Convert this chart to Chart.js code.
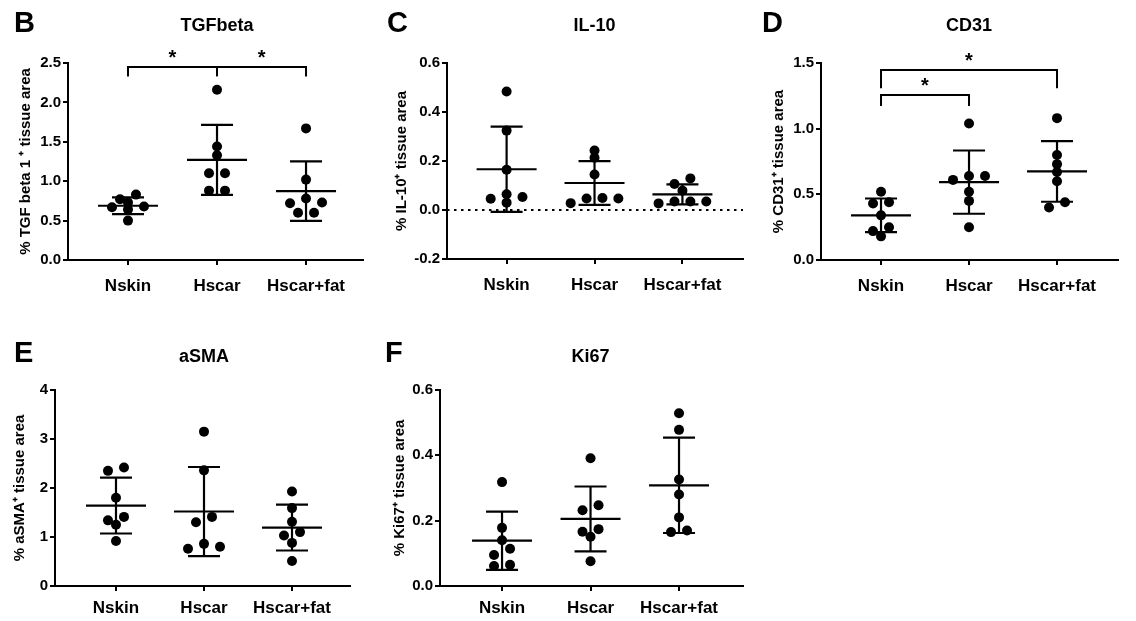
<!DOCTYPE html>
<html>
<head>
<meta charset="utf-8">
<title>Tissue staining quantification</title>
<script src="https://cdn.jsdelivr.net/npm/chart.js@4.4.1/dist/chart.umd.min.js"></script>
<style>
    html, body { margin: 0; padding: 0; background: #fff; }
    body { width: 1136px; height: 621px; position: relative; overflow: hidden; }
    canvas { position: absolute; }
</style>
</head>
<body>
<canvas id="tgfChart"></canvas>
<canvas id="il10Chart"></canvas>
<canvas id="cd31Chart"></canvas>
<canvas id="asmaChart"></canvas>
<canvas id="ki67Chart"></canvas>

<script>
const categories = ['Nskin', 'Hscar', 'Hscar+fat'];

/* ── B: TGFbeta ─────────────────────────────────────────────── */
const tgfNskin    = [0.73, 0.77, 0.83, 0.68, 0.67, 0.64, 0.50];
const tgfHscar    = [2.16, 1.44, 1.33, 1.10, 1.10, 0.88, 0.88];
const tgfHscarFat = [1.67, 1.02, 0.78, 0.73, 0.72, 0.60, 0.60];
const tgfTicks    = [0, 0.5, 1.0, 1.5, 2.0, 2.5];
const tgfSig      = [{ from: 1, to: 3, y: 2.45, drop: 2.33, mid: [2], stars: [1.5, 2.5] }];

/* ── C: IL-10 ───────────────────────────────────────────────── */
const il10Nskin    = [0.484, 0.324, 0.164, 0.064, 0.030, 0.053, 0.046];
const il10Hscar    = [0.243, 0.213, 0.145, 0.028, 0.049, 0.047, 0.047];
const il10HscarFat = [0.129, 0.106, 0.079, 0.027, 0.035, 0.035, 0.035];
const il10Ticks    = [-0.2, 0, 0.2, 0.4, 0.6];

/* ── D: CD31 ────────────────────────────────────────────────── */
const cd31Nskin    = [0.52, 0.44, 0.43, 0.34, 0.25, 0.22, 0.18];
const cd31Hscar    = [1.04, 0.64, 0.64, 0.61, 0.52, 0.45, 0.25];
const cd31HscarFat = [1.08, 0.80, 0.73, 0.67, 0.60, 0.44, 0.40];
const cd31Ticks    = [0, 0.5, 1.0, 1.5];
const cd31Sig      = [
    { from: 1, to: 2, y: 1.257, drop: 1.173, mid: [], stars: [1.5] },
    { from: 1, to: 3, y: 1.447, drop: 1.307, mid: [], stars: [2] },
];

/* ── E: aSMA ────────────────────────────────────────────────── */
const asmaNskin    = [2.42, 2.35, 1.80, 1.41, 1.34, 1.25, 0.92];
const asmaHscar    = [3.15, 2.36, 1.41, 1.30, 0.86, 0.76, 0.80];
const asmaHscarFat = [1.93, 1.59, 1.31, 1.10, 1.03, 0.88, 0.51];
const asmaTicks    = [0, 1, 2, 3, 4];

/* ── F: Ki67 ────────────────────────────────────────────────── */
const ki67Nskin    = [0.318, 0.178, 0.140, 0.114, 0.095, 0.061, 0.065];
const ki67Hscar    = [0.391, 0.247, 0.232, 0.174, 0.166, 0.151, 0.076];
const ki67HscarFat = [0.529, 0.478, 0.326, 0.280, 0.210, 0.165, 0.170];
const ki67Ticks    = [0, 0.2, 0.4, 0.6];

const black = '#000';
const arial = "'Liberation Sans', Arial, Helvetica, sans-serif";

const DOT_R     = 5;
const SPREAD_PX = 16;   // horizontal gap between dots sharing a row
const ROW_PX    = 7;    // values closer than this (px) share a row
const MEAN_HALF = 30;
const CAP_HALF  = 16;

function mean(vals) {
    return vals.reduce((a, b) => a + b, 0) / vals.length;
}

function sd(vals) {
    const m = mean(vals);
    return Math.sqrt(vals.reduce((a, v) => a + (v - m) ** 2, 0) / (vals.length - 1));
}

// GraphPad-like scatter: close values are grouped in rows and spread symmetrically
function swarmOffsets(vals, pxPerY, pxPerX) {
    const order = vals.map((_, k) => k).sort((a, b) => vals[b] - vals[a]);
    const offsets = new Array(vals.length).fill(0);
    let row = [];
    const flush = () => {
        const n = row.length;
        const slots = row.map((_, j) => (j - (n - 1) / 2) * SPREAD_PX)
            .sort((a, b) => Math.abs(a) - Math.abs(b) || b - a);
        row.forEach((k, j) => { offsets[k] = slots[j] / pxPerX; });
        row = [];
    };
    order.forEach(k => {
        if (row.length && (vals[row[0]] - vals[k]) * pxPerY > ROW_PX) flush();
        row.push(k);
    });
    flush();
    return offsets;
}

function line(ctx, x1, y1, x2, y2) {
    ctx.beginPath();
    ctx.moveTo(x1, y1);
    ctx.lineTo(x2, y2);
    ctx.stroke();
}

/* ── mean ± SD bars, zero line, brackets, titles ───────────── */
const dotPlotDecor = {
    id: 'dotPlotDecor',
    beforeDatasetsDraw(chart, args, opts) {
        if (!opts.zeroLine) return;
        const { ctx, chartArea, scales: { y } } = chart;
        const y0 = y.getPixelForValue(0);
        ctx.save();
        ctx.strokeStyle = black;
        ctx.lineWidth = 2;
        ctx.setLineDash([2.5, 4.5]);
        line(ctx, chartArea.left, y0, chartArea.right, y0);
        ctx.restore();
    },
    afterDatasetsDraw(chart, args, opts) {
        const { ctx, scales: { x, y } } = chart;
        ctx.save();
        ctx.strokeStyle = black;
        ctx.lineWidth = 2.2;
        opts.groups.forEach((vals, i) => {
            const cx = x.getPixelForValue(i + 1);
            const m = mean(vals), s = sd(vals);
            const ym = y.getPixelForValue(m);
            const yt = y.getPixelForValue(m + s);
            const yb = y.getPixelForValue(m - s);
            line(ctx, cx - MEAN_HALF, ym, cx + MEAN_HALF, ym);
            line(ctx, cx, yt, cx, yb);
            line(ctx, cx - CAP_HALF, yt, cx + CAP_HALF, yt);
            line(ctx, cx - CAP_HALF, yb, cx + CAP_HALF, yb);
        });
        ctx.restore();
    },
    afterDraw(chart, args, opts) {
        const { ctx, scales: { x, y } } = chart;
        ctx.save();
        ctx.fillStyle = black;
        ctx.strokeStyle = black;
        ctx.lineWidth = 2;

        (opts.sig || []).forEach(b => {
            const yb = y.getPixelForValue(b.y);
            const yd = y.getPixelForValue(b.drop);
            const x1 = x.getPixelForValue(b.from), x2 = x.getPixelForValue(b.to);
            ctx.beginPath();
            ctx.moveTo(x1, yd);
            ctx.lineTo(x1, yb);
            ctx.lineTo(x2, yb);
            ctx.lineTo(x2, yd);
            ctx.stroke();
            b.mid.forEach(v => line(ctx, x.getPixelForValue(v), yb, x.getPixelForValue(v), yd));
            ctx.font = `bold 20px ${arial}`;
            ctx.textAlign = 'center';
            ctx.textBaseline = 'alphabetic';
            b.stars.forEach(v => ctx.fillText('*', x.getPixelForValue(v), yb - 3));
        });

        ctx.textBaseline = 'alphabetic';
        ctx.textAlign = 'left';
        ctx.font = `bold 29px ${arial}`;
        ctx.fillText(opts.letter, opts.letterPos[0], opts.letterPos[1]);

        ctx.textAlign = 'center';
        ctx.textBaseline = 'middle';
        ctx.font = `bold 18px ${arial}`;
        ctx.fillText(opts.title, x.getPixelForValue(2), opts.titleY);
        ctx.restore();
    },
};

function makePanel(id, p) {
    const el = document.getElementById(id);
    const { box, area } = p;
    el.width = box.w;
    el.height = box.h;
    el.style.left = box.x + 'px';
    el.style.top = box.y + 'px';
    el.style.width = box.w + 'px';
    el.style.height = box.h + 'px';

    const yMin = p.yTicks[0], yMax = p.yTicks[p.yTicks.length - 1];
    const pxPerY = (area.bottom - area.top) / (yMax - yMin);
    const pxPerX = (area.right - area.left) / (p.xRange[1] - p.xRange[0]);

    const datasets = p.groups.map((vals, i) => {
        const offs = swarmOffsets(vals, pxPerY, pxPerX);
        return {
            label: categories[i],
            data: vals.map((v, k) => ({ x: i + 1 + offs[k], y: v })),
            backgroundColor: black,
            borderColor: black,
            borderWidth: 0,
            pointRadius: DOT_R,
            pointHoverRadius: DOT_R,
        };
    });

    return new Chart(el, {
        type: 'scatter',
        data: { datasets },
        options: {
            responsive: false,
            animation: false,
            devicePixelRatio: 1,
            layout: { padding: { left: 0, top: area.top, right: box.w - area.right, bottom: 0 } },
            plugins: {
                legend: { display: false },
                tooltip: { enabled: false },
                dotPlotDecor: {
                    groups: p.groups,
                    sig: p.sig,
                    zeroLine: p.zeroLine,
                    letter: p.letter,
                    letterPos: p.letterPos,
                    title: p.title,
                    titleY: p.titleY,
                },
            },
            scales: {
                x: {
                    type: 'linear',
                    min: p.xRange[0],
                    max: p.xRange[1],
                    afterFit: s => { s.height = box.h - area.bottom; },
                    afterBuildTicks: s => { s.ticks = categories.map((_, i) => ({ value: i + 1 })); },
                    ticks: {
                        callback: v => categories[v - 1],
                        color: black,
                        font: { family: arial, size: 17, weight: 'bold' },
                        padding: p.labelPad,
                        autoSkip: false,
                        maxRotation: 0,
                    },
                    grid: { drawOnChartArea: false, tickLength: 5, color: black, lineWidth: 2 },
                    border: { color: black, width: 2 },
                },
                y: {
                    type: 'linear',
                    min: yMin,
                    max: yMax,
                    afterFit: s => { s.width = area.left; },
                    afterBuildTicks: s => { s.ticks = p.yTicks.map(v => ({ value: v })); },
                    ticks: {
                        callback: v => Number(v).toFixed(p.decimals),
                        color: black,
                        font: { family: arial, size: 15, weight: 'bold' },
                        padding: 2,
                    },
                    grid: { drawOnChartArea: false, tickLength: 5, color: black, lineWidth: 2 },
                    border: { color: black, width: 2 },
                    title: {
                        display: true,
                        text: p.yTitle,
                        color: black,
                        font: { family: arial, size: 15, weight: 'bold' },
                        padding: { top: p.yTitlePad, bottom: 0 },
                    },
                },
            },
        },
        plugins: [dotPlotDecor],
    });
}

makePanel('tgfChart', {
    box: { x: 0, y: 0, w: 372, h: 305 },
    area: { left: 68, right: 363, top: 63, bottom: 260 },
    xRange: [0.326, 3.64],
    groups: [tgfNskin, tgfHscar, tgfHscarFat],
    yTicks: tgfTicks,
    decimals: 1,
    yTitle: '% TGF beta 1 \u207A tissue area',
    yTitlePad: 17,
    labelPad: 11,
    sig: tgfSig,
    letter: 'B',
    letterPos: [14, 32],
    title: 'TGFbeta',
    titleY: 26,
});

makePanel('il10Chart', {
    box: { x: 372, y: 0, w: 376, h: 305 },
    area: { left: 75, right: 373, top: 63, bottom: 259 },
    xRange: [0.322, 3.689],
    groups: [il10Nskin, il10Hscar, il10HscarFat],
    yTicks: il10Ticks,
    decimals: 1,
    yTitle: '% IL-10\u207A tissue area',
    yTitlePad: 21,
    labelPad: 11,
    zeroLine: true,
    letter: 'C',
    letterPos: [15, 32],
    title: 'IL-10',
    titleY: 26,
});

makePanel('cd31Chart', {
    box: { x: 748, y: 0, w: 388, h: 305 },
    area: { left: 73, right: 370, top: 63, bottom: 260 },
    xRange: [0.318, 3.693],
    groups: [cd31Nskin, cd31Hscar, cd31HscarFat],
    yTicks: cd31Ticks,
    decimals: 1,
    yTitle: '% CD31\u207A tissue area',
    yTitlePad: 22,
    labelPad: 11,
    sig: cd31Sig,
    letter: 'D',
    letterPos: [14, 32],
    title: 'CD31',
    titleY: 26,
});

makePanel('asmaChart', {
    box: { x: 0, y: 305, w: 372, h: 316 },
    area: { left: 55, right: 350, top: 85, bottom: 281 },
    xRange: [0.307, 3.659],
    groups: [asmaNskin, asmaHscar, asmaHscarFat],
    yTicks: asmaTicks,
    decimals: 0,
    yTitle: '% aSMA\u207A tissue area',
    yTitlePad: 11,
    labelPad: 7,
    letter: 'E',
    letterPos: [14, 57],
    title: 'aSMA',
    titleY: 52,
});

makePanel('ki67Chart', {
    box: { x: 372, y: 305, w: 392, h: 316 },
    area: { left: 68, right: 371, top: 85, bottom: 281 },
    xRange: [0.299, 3.723],
    groups: [ki67Nskin, ki67Hscar, ki67HscarFat],
    yTicks: ki67Ticks,
    decimals: 1,
    yTitle: '% Ki67\u207A tissue area',
    yTitlePad: 19,
    labelPad: 7,
    letter: 'F',
    letterPos: [13, 57],
    title: 'Ki67',
    titleY: 52,
});
</script>
</body>
</html>
